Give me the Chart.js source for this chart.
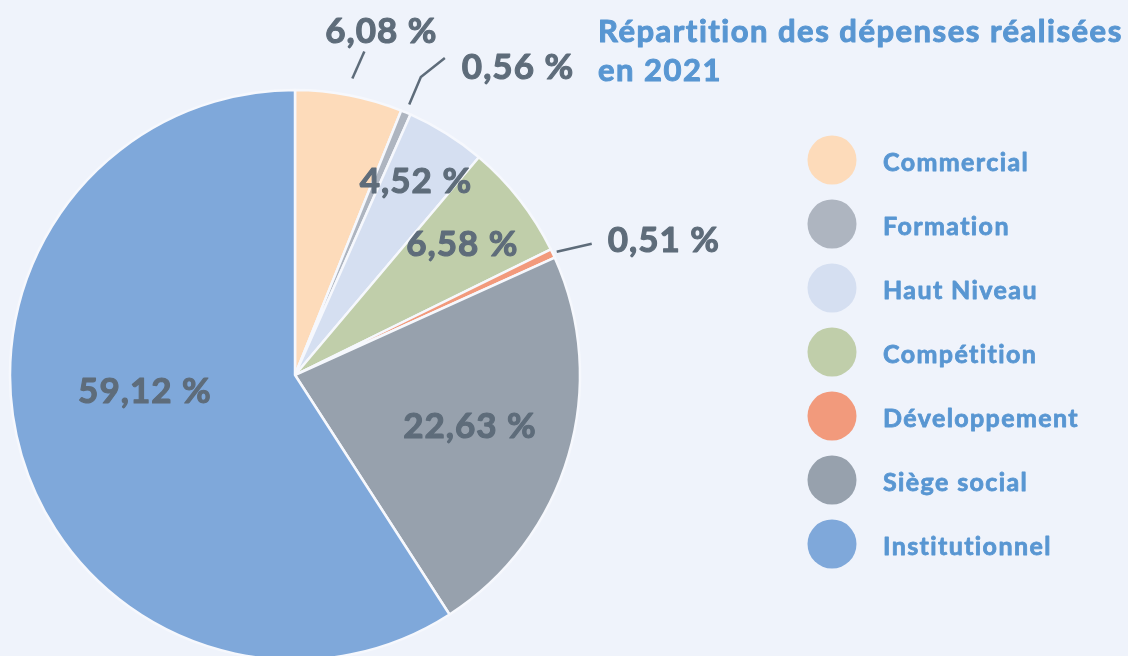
<!DOCTYPE html>
<html>
<head>
<meta charset="utf-8">
<script src="https://cdn.jsdelivr.net/npm/chart.js@4/dist/chart.umd.min.js"></script>
<style>
  html, body { margin: 0; padding: 0; background: #EFF3FB; overflow: hidden; }
  #wrap { width: 1128px; height: 656px; }
</style>
</head>
<body>
<div id="wrap"><canvas id="myChart" width="1128" height="656"></canvas></div>
<script>
// données
const categories = ['Commercial', 'Formation', 'Haut Niveau', 'Compétition', 'Développement', 'Siège social', 'Institutionnel'];
const shares = [6.08, 0.56, 4.52, 6.58, 0.51, 22.63, 59.12];
const sliceColors = ['#FDDBBA', '#AEB5C0', '#D5DFF1', '#C0CEAA', '#F29A7C', '#97A1AD', '#7FA8DA'];
const titleLines = ['Répartition des dépenses réalisées', 'en 2021'];

const labelColor = '#5E6C7A';
const blue = '#5896D2';
const fontFam = 'Lato, "Open Sans", sans-serif';

const fmt = (v) => v.toFixed(2).replace('.', ',') + ' %';

// texte un peu plus gras : remplissage + fin contour
const heavyText = (ctx, txt, x, y, w) => {
  ctx.save();
  ctx.lineWidth = w;
  ctx.lineJoin = 'round';
  ctx.strokeStyle = ctx.fillStyle;
  ctx.strokeText(txt, x, y);
  ctx.fillText(txt, x, y);
  ctx.restore();
};

// placement des étiquettes : inside -> fraction du rayon, outside -> ligne de rappel
const labelPlace = [
  { out: true, r0: 1.06, r1: 1.06, elbow: [12, -27], dx: 17, dy: -20, align: 'center' },
  { out: true, r0: 1.03, r1: 1.135, elbow: [24, -19], dx: 17, dy: 10, align: 'left' },
  { r: 0.80, shift: 0 },
  { r: 0.745, shift: 0 },
  { out: true, r0: 1.015, r1: 1.015, elbow: [35, -8], dx: 16, dy: -3, align: 'left' },
  { r: 0.64, shift: 0 },
  { r: 0.53, shift: 10 },
];

const labelsPlugin = {
  id: 'pie_labels',
  afterDatasetsDraw: (chart) => {
    const ctx = chart.ctx;
    const meta = chart.getDatasetMeta(0);
    ctx.save();
    ctx.font = 'bold 35px ' + fontFam;
    ctx.letterSpacing = '1px';
    ctx.fillStyle = labelColor;
    ctx.strokeStyle = labelColor;
    ctx.lineWidth = 2.5;
    ctx.textBaseline = 'middle';
    meta.data.forEach((arc, i) => {
      const p = arc.getProps(['x', 'y', 'startAngle', 'endAngle', 'outerRadius'], true);
      const pl = labelPlace[i];
      let mid = (p.startAngle + p.endAngle) / 2 + ((pl.shift || 0) * Math.PI) / 180;
      const R = p.outerRadius;
      const txt = fmt(shares[i]);
      if (!pl.out) {
        ctx.textAlign = 'center';
        heavyText(ctx, txt, p.x + Math.cos(mid) * R * pl.r, p.y + Math.sin(mid) * R * pl.r, 1.1);
        return;
      }
      const ax = p.x + Math.cos(mid) * R * pl.r0;
      const ay = p.y + Math.sin(mid) * R * pl.r0;
      let bx = p.x + Math.cos(mid) * R * pl.r1;
      let by = p.y + Math.sin(mid) * R * pl.r1;
      ctx.beginPath();
      ctx.moveTo(ax, ay);
      ctx.lineTo(bx, by);
      if (pl.elbow) {
        bx += pl.elbow[0];
        by += pl.elbow[1];
        ctx.lineTo(bx, by);
      }
      ctx.stroke();
      ctx.textAlign = pl.align;
      heavyText(ctx, txt, bx + pl.dx, by + pl.dy, 1.1);
    });
    ctx.restore();
  },
};

// titre + légende à droite
const sidePlugin = {
  id: 'side_legend',
  afterDraw: (chart) => {
    const ctx = chart.ctx;
    ctx.save();
    ctx.fillStyle = blue;
    ctx.font = 'bold 31px ' + fontFam;
    ctx.letterSpacing = '1.5px';
    ctx.textAlign = 'left';
    ctx.textBaseline = 'alphabetic';
    heavyText(ctx, titleLines[0], 598, 42, 1);
    heavyText(ctx, titleLines[1], 598, 81, 1);

    ctx.font = 'bold 25px ' + fontFam;
    ctx.letterSpacing = '1.4px';
    ctx.textBaseline = 'middle';
    categories.forEach((c, i) => {
      const cy = 160 + i * 64;
      ctx.beginPath();
      ctx.arc(832, cy, 24.5, 0, Math.PI * 2);
      ctx.fillStyle = sliceColors[i];
      ctx.fill();
      ctx.fillStyle = blue;
      heavyText(ctx, c, 883, cy + 3, 0.8);
    });
    ctx.restore();
  },
};

const config = {
  type: 'pie',
  data: {
    labels: categories,
    datasets: [
      {
        data: shares,
        backgroundColor: sliceColors,
        borderColor: '#F6F8FD',
        borderWidth: 2.5,
        clip: false,
      },
    ],
  },
  plugins: [labelsPlugin, sidePlugin],
  options: {
    responsive: false,
    animation: false,
    radius: 285,
    layout: { padding: { left: 10, right: 548, top: 94, bottom: 0 } },
    plugins: {
      legend: { display: false },
      tooltip: { enabled: false },
      title: { display: false },
    },
  },
};

const myChart = new Chart(document.getElementById('myChart'), config);
</script>
</body>
</html>
